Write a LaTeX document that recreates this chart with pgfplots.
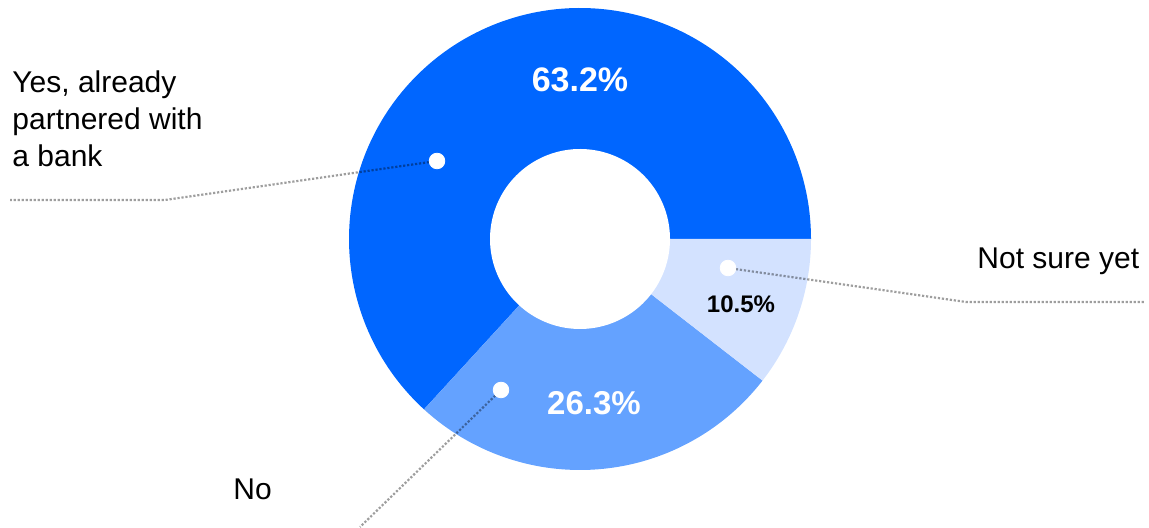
\documentclass[border=0pt]{standalone}
\usepackage{pgfplots}
\pgfplotsset{compat=1.18}
\usepackage{fontspec}
\setmainfont{Liberation Sans}
\definecolor{cyes}{HTML}{0066FF}
\definecolor{cno}{HTML}{64A2FF}
\definecolor{cns}{HTML}{D3E2FF}
% data (percent)
\def\vYes{63.2}
\def\vNo{26.3}
\def\vNS{10.5}
\def\pcx{580}\def\pcy{289}\def\pR{231}\def\pr{90}
\pgfmathsetmacro{\aA}{\vYes*3.6}
\pgfmathsetmacro{\aB}{(\vYes+\vNo)*3.6}
\pgfmathsetmacro{\aC}{(\vYes+\vNo+\vNS)*3.6}
\begin{document}
\begin{tikzpicture}
\begin{axis}[hide axis, scale only axis, width=574.5pt, height=264pt,
  xmin=0, xmax=1149, ymin=0, ymax=528, clip=false]
\addplot[fill=cyes, draw=none, domain=0:\aA, samples=200, variable=\t]
  ({\pcx+\pR*cos(\t)},{\pcy+\pR*sin(\t)}) -- (axis cs:\pcx,\pcy) -- cycle;
\addplot[fill=cno, draw=none, domain=\aA:\aB, samples=100, variable=\t]
  ({\pcx+\pR*cos(\t)},{\pcy+\pR*sin(\t)}) -- (axis cs:\pcx,\pcy) -- cycle;
\addplot[fill=cns, draw=none, domain=\aB:\aC, samples=60, variable=\t]
  ({\pcx+\pR*cos(\t)},{\pcy+\pR*sin(\t)}) -- (axis cs:\pcx,\pcy) -- cycle;
\addplot[fill=white, draw=none, domain=0:360, samples=150, variable=\t]
  ({\pcx+\pr*cos(\t)},{\pcy+\pr*sin(\t)}) -- cycle;
% leader lines
\addplot[black, opacity=0.38, line width=1.1pt, dash pattern=on 1.1pt off 0.9pt] coordinates {(437,367) (165,328) (10,328)};
\addplot[black, opacity=0.38, line width=1.1pt, dash pattern=on 1.1pt off 0.9pt] coordinates {(728,260) (966,226) (1145,226)};
\addplot[black, opacity=0.38, line width=1.1pt, dash pattern=on 1.1pt off 0.9pt] coordinates {(501,138) (360,1)};
% dots
\addplot[draw=none, only marks, mark=*, mark size=3.9pt, mark options={fill=white, draw=white}] coordinates {(437,367) (728,260) (501,138)};
% labels
\tikzset{lab/.style={inner sep=0pt, anchor=base west, font=\fontsize{15}{17}\selectfont}}
\node[lab] at (axis cs:12,435) {Yes, already};
\node[lab] at (axis cs:12,398) {partnered with};
\node[lab] at (axis cs:12,361) {a bank};
\node[lab] at (axis cs:977,259) {Not sure yet};
\node[lab] at (axis cs:233,28) {No};
\node[inner sep=0pt, anchor=base, text=white, font=\bfseries\fontsize{17}{19}\selectfont] at (axis cs:580,436) {63.2\%};
\node[inner sep=0pt, anchor=base, text=white, font=\bfseries\fontsize{16.5}{19}\selectfont] at (axis cs:594,113) {26.3\%};
\node[inner sep=0pt, anchor=base, text=black, font=\bfseries\fontsize{12}{14}\selectfont] at (axis cs:741,215) {10.5\%};
\end{axis}
\pgfresetboundingbox
\path (current axis.south west) rectangle (current axis.north east);
\end{tikzpicture}
\end{document}
